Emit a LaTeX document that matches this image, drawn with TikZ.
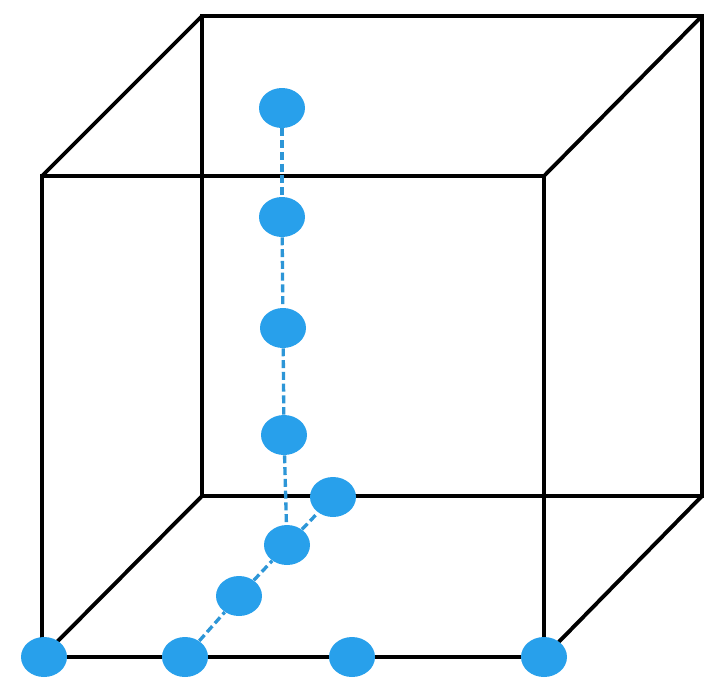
\documentclass[tikz,border=0pt]{standalone}
\usepackage{tikz}
\usetikzlibrary{shapes.geometric}
\definecolor{DotBlue}{RGB}{40,160,235}
\definecolor{LinkBlue}{RGB}{45,150,215}

\begin{document}
\begin{tikzpicture}[x=0.02cm,y=-0.02cm,
    edge/.style={black,line width=2.2pt,line join=miter},
    link/.style={LinkBlue,line width=1.9pt,dash pattern=on 4.5pt off 2.2pt},
    dot/.style={ellipse,fill=DotBlue,inner sep=0pt,minimum width=0.92cm,minimum height=0.8cm}]
    \useasboundingbox (0,0) rectangle (726,696);
    % cube corners
    \coordinate (fa) at (42,176);  \coordinate (fb) at (544,176);
    \coordinate (fc) at (544,657); \coordinate (fd) at (42,657);
    \coordinate (ba) at (202,16);  \coordinate (bb) at (702,16);
    \coordinate (bc) at (702,496); \coordinate (bd) at (202,496);
    \draw[edge] (fa) -- (fb) -- (fc) -- (fd) -- cycle;
    \draw[edge] (ba) -- (bb) -- (bc) -- (bd) -- cycle;
    \foreach \x/\y in {fa/ba,fb/bb,fc/bc,fd/bd}{\draw[edge] (\x) -- (\y);}
    % dots
    \node[dot] (t1) at (282,108) {};
    \node[dot] (t2) at (282,217) {};
    \node[dot] (t3) at (283,328) {};
    \node[dot] (t4) at (284,435) {};
    \node[dot] (m) at (287,545) {};
    \node[dot] (d1) at (239,596) {};
    \node[dot] (d2) at (333,497) {};
    \node[dot] (b0) at (44,657) {};
    \node[dot] (b1) at (185,657) {};
    \node[dot] (b2) at (352,657) {};
    \node[dot] (b3) at (544,657) {};
    \foreach \x/\y in {t1/t2,t2/t3,t3/t4,t4/m,b1/d1,d1/m,m/d2}{\draw[link] (\x) -- (\y);}
  \end{tikzpicture}
\end{document}
